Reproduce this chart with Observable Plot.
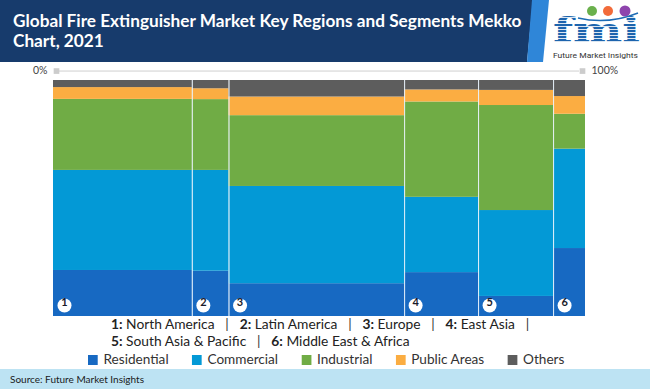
<!DOCTYPE html>
<html><head><meta charset="utf-8">
<script src="https://cdn.jsdelivr.net/npm/d3@7"></script>
<script src="https://cdn.jsdelivr.net/npm/@observablehq/plot@0.6"></script>
<style>
body{margin:0;background:#fff;}
#wrap{position:relative;width:650px;height:389px;overflow:hidden;font-family:Lato,"Open Sans",sans-serif;background:#fff;}
#band{position:absolute;left:0;top:0;width:650px;height:62px;background:#173b6c;clip-path:polygon(0 0,533px 0,527px 62px,0 62px);}
#stripe{position:absolute;left:0;top:0;width:650px;height:62px;background:#2f86d8;clip-path:polygon(532px 0,549px 0,543px 62px,527px 62px);}
.tl{position:absolute;left:13px;color:#fff;font-weight:700;font-size:16.5px;white-space:nowrap;transform-origin:0 0;}
#logo{position:absolute;left:548px;top:0;width:100px;height:62px;}
#chart{position:absolute;left:0;top:62px;}
.rl{position:absolute;left:111px;font-size:14px;color:#222;white-space:nowrap;transform-origin:0 0;}
.rl b{font-weight:700;}
.rl .sep{display:inline-block;margin:0 11px;color:#333;}
#legend{position:absolute;left:88px;top:350px;font-size:14px;color:#333;white-space:nowrap;transform-origin:0 0;}
#legend span.sw{display:inline-block;width:10px;height:10px;margin-right:6px;vertical-align:-1px;}
#legend span.it{margin-right:24px;}
#legend span.it:last-child{margin-right:0;}
#foot{position:absolute;left:0;top:369px;width:650px;height:20px;background:#bde3f3;}
#foot span{position:absolute;left:10px;top:4px;font-size:10px;color:#1a1a1a;}
</style></head>
<body><div id="wrap">
<div id="band"></div><div id="stripe"></div>
<div class="tl" id="t1" style="top:11px">Global Fire Extinguisher Market Key Regions and Segments Mekko</div>
<div class="tl" id="t2" style="top:31px">Chart, 2021</div>
<div id="logo">
<svg width="100" height="62">
<defs><pattern id="stp" width="4" height="3" patternUnits="userSpaceOnUse"><rect width="4" height="2.4" fill="#1d64ad"/><rect y="2.4" width="4" height="0.6" fill="#ffffff"/></pattern></defs>
<circle cx="44" cy="11" r="5" fill="#6ab04c"/><circle cx="60" cy="11" r="5" fill="#f26b3a"/><circle cx="77" cy="11" r="5.5" fill="#8e44ad"/>
<path d="M30 18 Q60 25 90 13" fill="none" stroke="#1f6cb5" stroke-width="1.5"/>
<text x="5" y="42" textLength="87" lengthAdjust="spacingAndGlyphs" font-family="'DejaVu Serif',serif" font-weight="700" font-size="34" fill="url(#stp)">fmi</text>
<text x="5" y="58" textLength="85" lengthAdjust="spacingAndGlyphs" font-family="Roboto,sans-serif" font-size="8" fill="#333">Future Market Insights</text>
</svg></div>
<div id="chart"></div>
<div class="rl" id="r1" style="top:315px"><b>1:</b> North America<span class="sep">|</span><b>2:</b> Latin America<span class="sep">|</span><b>3:</b> Europe<span class="sep">|</span><b>4:</b> East Asia<span class="sep">|</span></div>
<div class="rl" id="r2" style="top:332px"><b>5:</b> South Asia &amp; Pacific<span class="sep">|</span><b>6:</b> Middle East &amp; Africa</div>
<div id="legend"></div>
<div id="foot"><span>Source: Future Market Insights</span></div>
</div>
<script>
const regions = ["North America","Latin America","Europe","East Asia","South Asia & Pacific","Middle East & Africa"];
const regionShare = [26.1, 6.9, 33.0, 13.9, 14.1, 6.0];
const segments = ["Residential","Commercial","Industrial","Public Areas","Others"];
const residential = [19.5, 19.2, 13.9, 18.6, 8.5, 28.8];
const commercial  = [42.4, 42.7, 41.2, 31.9, 36.4, 42.1];
const industrial  = [30.1, 30.0, 30.0, 40.4, 44.5, 14.8];
const publicAreas = [5.0, 4.6, 7.9, 5.1, 6.4, 7.5];
const others      = [3.0, 3.5, 7.0, 4.0, 4.2, 6.8];
const colors = ["#1769c2","#0399d6","#70ac45","#fbad42","#5d5d5d"];
const axisLabels = ["0%","100%"];

const series = [residential, commercial, industrial, publicAreas, others];
const cells = [];
const cols = [];
let x0 = 0;
regions.forEach((r, i) => {
  const x1 = x0 + regionShare[i];
  cols.push({region: r, idx: i + 1, x1: x0, x2: x1});
  let y0 = 0;
  segments.forEach((s, j) => {
    const v = series[j][i];
    cells.push({region: r, segment: s, x1: x0, x2: x1, y1: y0, y2: y0 + v});
    y0 += v;
  });
  x0 = x1;
});

const chart = Plot.plot({
  width: 650, height: 256,
  marginTop: 18, marginBottom: 2, marginLeft: 53, marginRight: 65,
  x: {domain: [0, 100], axis: null},
  y: {domain: [0, 100], axis: null},
  color: {domain: segments, range: colors},
  style: {fontFamily: "Lato, sans-serif", background: "transparent", overflow: "visible"},
  marks: [
    Plot.rect(cells, {x1: "x1", x2: "x2", y1: "y1", y2: "y2", fill: "segment"}),
    Plot.ruleX(cols.slice(1), {x: "x1", stroke: "#e8f2fb", strokeWidth: 1}),
    Plot.ruleY([104], {stroke: "#cfcfcf", strokeWidth: 1, insetLeft: 6, insetRight: 6}),
    Plot.dot([0], {x: d => d, y: 104, symbol: "square", r: 3.2, fill: "#cccccc", dx: 3}),
    Plot.dot([100], {x: d => d, y: 104, symbol: "square", r: 3.2, fill: "#cccccc", dx: -3}),
    Plot.text([0], {x: d => d, y: 104, text: () => axisLabels[0], textAnchor: "end", dx: -6, fontSize: 10.5, fill: "#444"}),
    Plot.text([100], {x: d => d, y: 104, text: () => axisLabels[1], textAnchor: "start", dx: 6, fontSize: 10.5, fill: "#444"}),
    Plot.dot(cols, {x: "x1", frameAnchor: "bottom", dx: 11, dy: -11, r: 7, fill: "white"}),
    Plot.text(cols, {x: "x1", frameAnchor: "bottom", dx: 11, dy: -11, text: d => String(d.idx), fontWeight: "bold", fontSize: 11, fill: "#1a1a2a"})
  ]
});
document.getElementById("chart").appendChild(chart);

const lg = document.getElementById("legend");
segments.forEach((s, j) => {
  const it = document.createElement("span");
  it.className = "it";
  it.innerHTML = `<span class="sw" style="background:${colors[j]}"></span>${s}`;
  lg.appendChild(it);
});

function fit(id, w) {
  const el = document.getElementById(id);
  const s = w / el.scrollWidth;
  el.style.transform = `scaleX(${s})`;
  return s;
}
const ts = fit("t1", 508);
document.getElementById("t2").style.transform = `scaleX(${ts})`;
const rs = fit("r1", 429);
document.getElementById("r2").style.transform = `scaleX(${rs})`;
fit("legend", 476);
</script>
</body></html>
